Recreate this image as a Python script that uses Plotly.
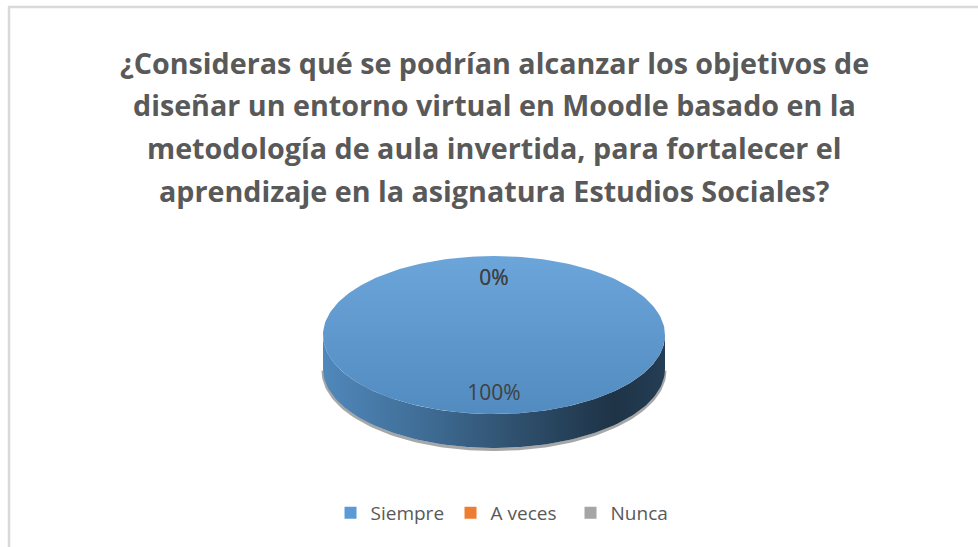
import numpy as np
import plotly.graph_objects as go

# data
categories = ["Siempre", "A veces", "Nunca"]
values = [100, 0, 0]
colors = ["#5b9bd5", "#ed7d31", "#a5a5a5"]
title_lines = [
    "¿Consideras qué se podrían alcanzar los objetivos de",
    "diseñar un entorno virtual en Moodle basado en la",
    "metodología de aula invertida, para fortalecer el",
    "aprendizaje en la asignatura Estudios Sociales?",
]

W, H = 978, 547
# pie geometry in pixel coords (y grows downward)
cx, cy, rx, ry, depth = 494, 335, 171, 79, 34
FONT = "Open Sans"


def shade(hex_color, f):
    h = hex_color.lstrip("#")
    r, g, b = (int(h[i:i + 2], 16) for i in (0, 2, 4))
    if f >= 0:
        r, g, b = (int(c + (255 - c) * f) for c in (r, g, b))
    else:
        r, g, b = (int(c * (1 + f)) for c in (r, g, b))
    return f"rgb({r},{g},{b})"


def pt(theta, dy=0.0, k=1.0):
    # theta: clockwise from 12 o'clock
    return cx + k * rx * np.sin(theta), cy - k * ry * np.cos(theta) + dy


total = sum(values)
fracs = [v / total for v in values]
starts = np.concatenate([[0], np.cumsum(fracs)[:-1]]) * 2 * np.pi
ends = np.cumsum(fracs) * 2 * np.pi

fig = go.Figure()

# soft shadow under the disc
th = np.linspace(np.pi / 2, 3 * np.pi / 2, 120)
sx, sy = pt(th, depth + 1.5)
fig.add_trace(go.Scatter(x=sx, y=sy, mode="lines", line=dict(color="rgba(60,60,60,0.45)", width=3),
                         hoverinfo="skip", showlegend=False))

# side walls (front half only)
for a, b, c in zip(starts, ends, colors):
    lo, hi = max(a, np.pi / 2), min(b, 3 * np.pi / 2)
    if hi <= lo:
        continue
    th = np.linspace(lo, hi, 120)
    tx, ty = pt(th)
    bx, by = pt(th[::-1], depth)
    fig.add_trace(go.Scatter(
        x=np.concatenate([tx, bx]), y=np.concatenate([ty, by]),
        mode="lines", line=dict(width=0), fill="toself",
        fillgradient=dict(type="horizontal", start=cx - rx, stop=cx + rx,
                          colorscale=[[0, shade(c, -0.12)], [0.3, shade(c, -0.3)],
                                      [0.55, shade(c, -0.47)], [0.85, shade(c, -0.67)],
                                      [1, shade(c, -0.6)]]),
        hoverinfo="skip", showlegend=False))

# top faces
for a, b, c in zip(starts, ends, colors):
    if b <= a:
        continue
    th = np.linspace(a, b, 240)
    tx, ty = pt(th)
    if b - a < 2 * np.pi - 1e-9:
        tx, ty = np.concatenate([[cx], tx, [cx]]), np.concatenate([[cy], ty, [cy]])
    fig.add_trace(go.Scatter(
        x=tx, y=ty, mode="lines", line=dict(width=0), fill="toself",
        fillgradient=dict(type="vertical", start=cy - ry, stop=cy + ry,
                          colorscale=[[0, shade(c, 0.1)], [1, shade(c, -0.1)]]),
        hoverinfo="skip", showlegend=False))

# data labels
mids = (starts + ends) / 2
lx, ly = pt(mids, dy=2.5, k=0.73)
fig.add_trace(go.Scatter(x=lx, y=ly, mode="text", text=[f"{f * 100:.0f}%" for f in fracs],
                         textfont=dict(family=FONT, size=21, color="#404040"),
                         hoverinfo="skip", showlegend=False))

# legend entries
for name, c in zip(categories, colors):
    fig.add_trace(go.Scatter(x=[None], y=[None], mode="markers", name=name,
                             marker=dict(symbol="square", size=12, color=c)))

for i, line in enumerate(title_lines):
    fig.add_annotation(x=494, y=62 + i * 42.7, text=f"<b>{line}</b>", showarrow=False,
                       font=dict(family=FONT, size=28.7, color="#595959"),
                       xanchor="center", yanchor="middle")

# chart frame
fig.add_shape(type="line", x0=8, x1=W, y0=7, y1=7, line=dict(color="#d9d9d9", width=2.5))
fig.add_shape(type="line", x0=9, x1=9, y0=7, y1=H, line=dict(color="#d9d9d9", width=2.5))

fig.update_layout(
    width=W, height=H, margin=dict(l=0, r=0, t=0, b=0),
    paper_bgcolor="white", plot_bgcolor="white",
    xaxis=dict(range=[0, W], visible=False, fixedrange=True),
    yaxis=dict(range=[H, 0], visible=False, fixedrange=True),
    legend=dict(orientation="h", x=0.522, xanchor="center", y=(H - 513) / H, yanchor="middle",
                font=dict(family=FONT, size=19, color="#595959"), bgcolor="rgba(0,0,0,0)",
                entrywidth=75),
    showlegend=True,
)

fig.write_html("out.html", config={"displayModeBar": False},
               post_script="document.body.style.margin='0';")
